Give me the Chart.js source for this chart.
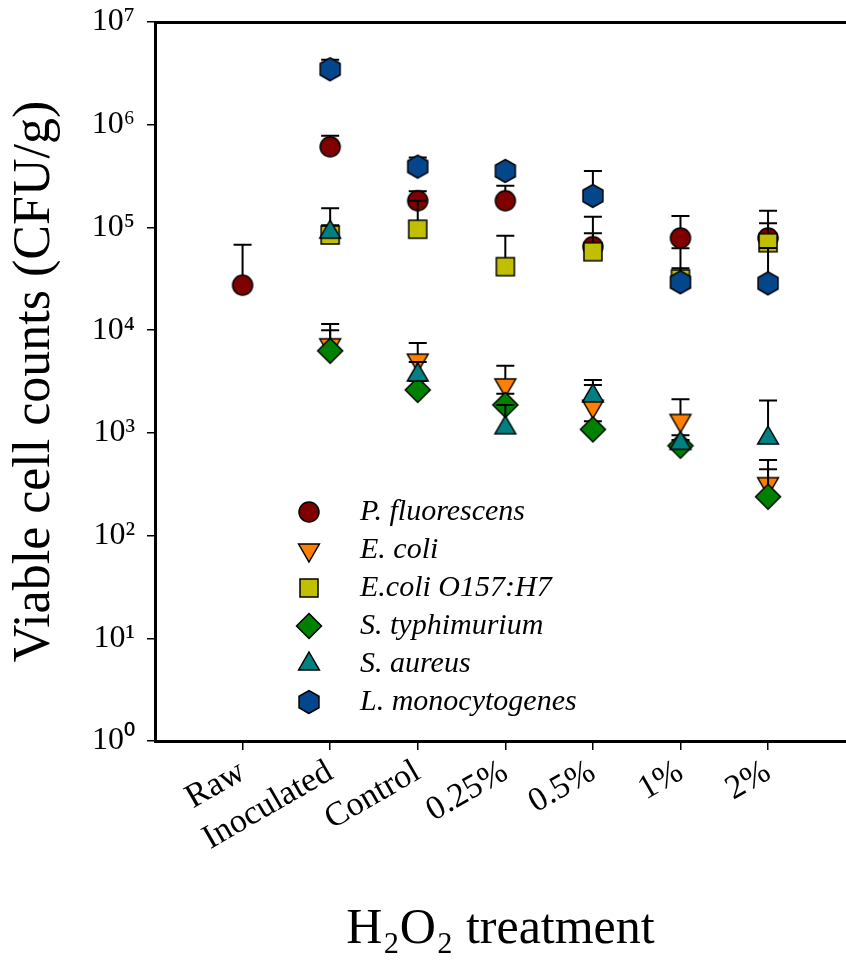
<!DOCTYPE html>
<html><head><meta charset="utf-8">
<script src="https://cdn.jsdelivr.net/npm/chart.js@4.4.1/dist/chart.umd.min.js"></script>
<style>html,body{margin:0;padding:0;background:#fff;overflow:hidden}canvas{display:block}</style>
</head><body>
<canvas id="c" width="846" height="968"></canvas>
<script>
// ---------- data ----------
const categories = ['Raw', 'Inoculated', 'Control', '0.25%', '0.5%', '1%', '2%'];
const seriesNames = ['P. fluorescens', 'E. coli', 'E.coli O157:H7', 'S. typhimurium', 'S. aureus', 'L. monocytogenes'];

const pFluorescens      = [2.74e4, 6.1e5, 1.82e5, 1.82e5, 6.5e4, 7.9e4, 7.9e4];
const pFluorescensUpper = [6.8e4, 7.8e5, 2.25e5, 2.55e5, 8.8e4, 1.29e5, 1.45e5];

const eColi      = [null, 7.2e3, 5.1e3, 2.93e3, 1.81e3, 1.32e3, 320];
const eColiUpper = [null, 1.0e4, 7.5e3, 4.5e3, 2.93e3, 2.12e3, 545];

const eColiO157      = [null, 8.45e4, 9.6e4, 4.15e4, 5.8e4, 3.15e4, 7.1e4];
const eColiO157Upper = [null, 1.54e5, 1.82e5, 8.3e4, 1.27e5, 4.0e4, 1.1e5];

const sTyphimurium      = [null, 6.3e3, 2.62e3, 1.87e3, 1.08e3, 750, 239];
const sTyphimuriumUpper = [null, 1.15e4, 3.2e3, 2.4e3, 1.3e3, 850, 442];

const sAureus      = [null, 9.0e4, 3.66e3, 1.12e3, 2.29e3, 790, 890];
const sAureusUpper = [null, 1.05e5, 4.9e3, 1.87e3, 3.27e3, 950, 2.06e3];

const lMonocytogenes      = [null, 3.47e6, 3.91e5, 3.55e5, 2.03e5, 2.93e4, 2.86e4];
const lMonocytogenesUpper = [null, 4.28e6, 4.8e5, 4.0e5, 3.55e5, 6.27e4, 6.3e4];

const yTickValues = [1, 10, 100, 1e3, 1e4, 1e5, 1e6, 1e7];
const yTickLabels = ['10\u2070', '10\u00B9', '10\u00B2', '10\u00B3', '10\u2074', '10\u2075', '10\u2076', '10\u2077'];
const yTitle = 'Viable cell counts (CFU/g)';
const xTitle = 'H\u2082O\u2082 treatment';

// ---------- styling ----------
const valueSeries = [pFluorescens, eColi, eColiO157, sTyphimurium, sAureus, lMonocytogenes];
const upperSeries = [pFluorescensUpper, eColiUpper, eColiO157Upper, sTyphimuriumUpper, sAureusUpper, lMonocytogenesUpper];
const shapes = ['circle', 'triDown', 'square', 'diamond', 'triUp', 'hexagon'];
const fills = ['#800000', '#ff8000', '#c0c000', '#008000', '#008080', '#04468c'];

function makeMarker(shape, fill) {
  const S = 30, c = document.createElement('canvas');
  c.width = S; c.height = S;
  const g = c.getContext('2d'), m = S / 2;
  g.beginPath();
  if (shape === 'circle') g.arc(m, m, 10, 0, Math.PI * 2);
  else if (shape === 'square') g.rect(m - 9, m - 9, 18, 18);
  else if (shape === 'diamond') { g.moveTo(m, m - 12.5); g.lineTo(m + 12.5, m); g.lineTo(m, m + 12.5); g.lineTo(m - 12.5, m); g.closePath(); }
  else if (shape === 'triUp' || shape === 'triDown') {
    const r = 12, s = shape === 'triUp' ? -1 : 1;
    g.moveTo(m, m + s * r); g.lineTo(m + r * 0.866, m - s * r / 2); g.lineTo(m - r * 0.866, m - s * r / 2); g.closePath();
  } else if (shape === 'hexagon') {
    const r = 11.5;
    for (let k = 0; k < 6; k++) {
      const a = Math.PI / 2 + k * Math.PI / 3;
      const px = m + r * Math.cos(a), py = m + r * Math.sin(a);
      if (k) g.lineTo(px, py); else g.moveTo(px, py);
    }
    g.closePath();
  }
  g.fillStyle = fill; g.fill();
  g.lineWidth = 1.5; g.strokeStyle = '#000'; g.stroke();
  return c;
}

const datasets = seriesNames.map((name, si) => ({
  label: name,
  data: valueSeries[si].map((v, i) => v == null ? null : {x: i + 1, y: v}).filter(p => p),
  pointStyle: makeMarker(shapes[si], fills[si]),
  pointRadius: 10,
  pointHoverRadius: 10,
  showLine: false,
  backgroundColor: fills[si],
  borderColor: '#000',
  order: seriesNames.length - si
}));

const errorBarPlugin = {
  id: 'errorBars',
  beforeDatasetDraw(chart, args) {
    const vals = valueSeries[args.index], up = upperSeries[args.index];
    const xs = chart.scales.x, ys = chart.scales.y, ctx = chart.ctx;
    ctx.save();
    ctx.strokeStyle = '#000'; ctx.lineWidth = 2;
    vals.forEach((v, i) => {
      if (v == null || up[i] == null) return;
      const px = xs.getPixelForValue(i + 1), py = ys.getPixelForValue(v), pu = ys.getPixelForValue(up[i]);
      ctx.beginPath();
      ctx.moveTo(px, py); ctx.lineTo(px, pu);
      ctx.moveTo(px - 9, pu); ctx.lineTo(px + 9, pu);
      ctx.stroke();
    });
    ctx.restore();
  }
};

const legendPlace = {
  id: 'legendPlace',
  afterLayout(chart) {
    const lg = chart.legend;
    if (!lg) return;
    lg.left = 265; lg.top = 489;
    lg.right = lg.left + lg.width; lg.bottom = lg.top + lg.height;
  }
};

Chart.defaults.font.family = "'Liberation Serif', 'Times New Roman', serif";
Chart.defaults.color = '#000';

new Chart(document.getElementById('c'), {
  type: 'scatter',
  data: {datasets},
  plugins: [errorBarPlugin, legendPlace],
  options: {
    responsive: false,
    animation: false,
    devicePixelRatio: 1,
    events: [],
    layout: {autoPadding: false, padding: {top: 22, right: 0, bottom: 0, left: 0}},
    plugins: {
      tooltip: {enabled: false},
      legend: {
        position: 'chartArea',
        align: 'start',
        labels: {
          usePointStyle: true,
          boxHeight: 14,
          pointStyleWidth: 72,
          padding: 8,
          color: '#000',
          font: {size: 30, style: 'italic'},
          sort: (a, b) => a.datasetIndex - b.datasetIndex
        }
      }
    },
    scales: {
      x: {
        type: 'linear', position: 'bottom', min: 0, max: 7.89,
        afterBuildTicks: s => { s.ticks = categories.map((c, i) => ({value: i + 1})); },
        afterFit: s => { s.height = 227; s.paddingLeft = 0; s.paddingRight = 0; },
        ticks: {callback: v => categories[v - 1], autoSkip: false, minRotation: 30, maxRotation: 30, font: {size: 34}, color: '#000', padding: 2},
        grid: {display: true, drawOnChartArea: false, drawTicks: true, tickLength: 9, color: '#000', lineWidth: 1.5},
        border: {display: true, color: '#000', width: 3},
        title: {display: true, text: xTitle, font: {size: 50}, color: '#000', padding: {top: 0, bottom: 8}}
      },
      xTop: {
        type: 'linear', position: 'top', min: 0, max: 7.89,
        afterFit: s => { s.height = 0; s.paddingLeft = 0; s.paddingRight = 0; },
        ticks: {display: false},
        grid: {display: false},
        border: {display: true, color: '#000', width: 3}
      },
      y: {
        type: 'logarithmic', position: 'left', min: 1, max: 1e7,
        afterBuildTicks: s => { s.ticks = yTickValues.map(v => ({value: v})); },
        afterFit: s => { s.width = 155; s.paddingTop = 0; s.paddingBottom = 0; },
        ticks: {callback: (v, i) => yTickLabels[i], font: {size: 32}, color: '#000', padding: 12},
        grid: {display: true, drawOnChartArea: false, drawTicks: true, tickLength: 8, color: '#000', lineWidth: 1.5},
        border: {display: true, color: '#000', width: 3},
        title: {display: true, text: yTitle, font: {size: 52}, color: '#000', padding: {top: 4, bottom: 0}}
      }
    }
  }
});
</script>
</body></html>
